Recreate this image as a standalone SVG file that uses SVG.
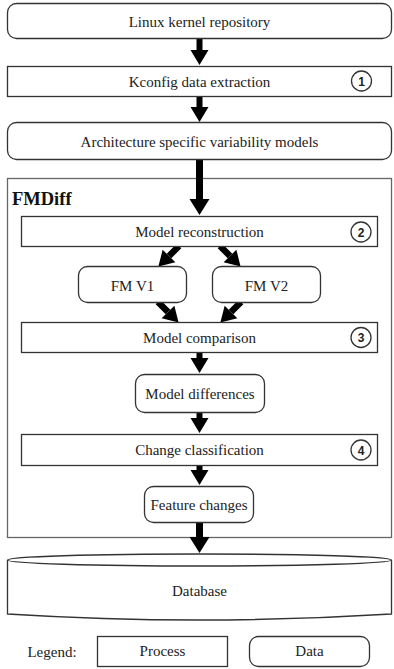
<svg xmlns="http://www.w3.org/2000/svg" width="394" height="669" viewBox="0 0 394 669">
<style>
.box{fill:#fff;stroke:#333;stroke-width:1.3}
.outer{fill:#fff;stroke:#666;stroke-width:1.3}
.t{font-family:"Liberation Serif","Times New Roman",serif;font-size:15px;fill:#222;text-anchor:middle}
.title{font-family:"Liberation Serif","Times New Roman",serif;font-size:18.5px;font-weight:bold;fill:#111}
.num{font-family:"Liberation Sans",Arial,sans-serif;font-size:12px;font-weight:bold;fill:#222;text-anchor:middle}
.circ{fill:#fff;stroke:#333;stroke-width:1.3}
.sh{stroke:#000;fill:none}
.hd{fill:#000}
</style>
<defs>
<marker id="ah" markerUnits="userSpaceOnUse" markerWidth="16" markerHeight="20" refX="0" refY="9" orient="auto" overflow="visible">
<path d="M0,0 L15,9 L0,18 z" fill="#000"/>
</marker>
<marker id="ahb" markerUnits="userSpaceOnUse" markerWidth="17" markerHeight="22" refX="0" refY="10" orient="auto" overflow="visible">
<path d="M0,0 L16,10 L0,20 z" fill="#000"/>
</marker>
</defs>
<rect width="394" height="669" fill="#fff"/>

<g id="fmdiff">
<rect class="outer" x="7.5" y="178.5" width="384" height="359"/>
<text class="title" x="12" y="205">FMDiff</text>
</g>

<g id="connectors">
<line class="sh" stroke-width="6" x1="199.5" y1="39" x2="199.5" y2="50" marker-end="url(#ah)"/>
<line class="sh" stroke-width="6" x1="199.5" y1="97" x2="199.5" y2="107" marker-end="url(#ah)"/>
<line class="sh" stroke-width="7" x1="199.5" y1="160" x2="199.5" y2="199" marker-end="url(#ahb)"/>
<line class="sh" stroke-width="6.5" x1="179" y1="246" x2="169" y2="256" marker-end="url(#ah)"/>
<line class="sh" stroke-width="6.5" x1="220" y1="246" x2="230" y2="256" marker-end="url(#ah)"/>
<line class="sh" stroke-width="6.5" x1="158" y1="302" x2="168" y2="312" marker-end="url(#ah)"/>
<line class="sh" stroke-width="6.5" x1="241" y1="302" x2="231" y2="312" marker-end="url(#ah)"/>
<line class="sh" stroke-width="6" x1="199.5" y1="353" x2="199.5" y2="358" marker-end="url(#ah)"/>
<line class="sh" stroke-width="6" x1="199.5" y1="413" x2="199.5" y2="418" marker-end="url(#ah)"/>
<line class="sh" stroke-width="6" x1="199.5" y1="466" x2="199.5" y2="470" marker-end="url(#ah)"/>
<line class="sh" stroke-width="7" x1="199.5" y1="523" x2="199.5" y2="537" marker-end="url(#ahb)"/>
</g>

<g id="linux-repo">
<rect class="box" x="7.5" y="3.5" width="384" height="35" rx="9"/>
<text class="t" x="199.5" y="27">Linux kernel repository</text>
</g>

<g id="kconfig">
<rect class="box" x="7.5" y="66.5" width="384" height="30"/>
<text class="t" x="199.5" y="87">Kconfig data extraction</text>
<circle class="circ" cx="361.5" cy="81" r="10"/>
<text class="num" x="361.5" y="85.5">1</text>
</g>

<g id="arch-models">
<rect class="box" x="7.5" y="122.5" width="384" height="37" rx="9"/>
<text class="t" x="199.5" y="147">Architecture specific variability models</text>
</g>

<g id="model-reconstruction">
<rect class="box" x="21.5" y="216.5" width="356" height="30"/>
<text class="t" x="199.5" y="237">Model reconstruction</text>
<circle class="circ" cx="361" cy="232" r="10"/>
<text class="num" x="361" y="236.5">2</text>
</g>

<g id="fm-v1">
<rect class="box" x="78.5" y="266.5" width="108" height="36" rx="9"/>
<text class="t" x="132.5" y="291">FM V1</text>
</g>

<g id="fm-v2">
<rect class="box" x="212.5" y="266.5" width="108" height="36" rx="9"/>
<text class="t" x="266.5" y="291">FM V2</text>
</g>

<g id="model-comparison">
<rect class="box" x="21.5" y="322.5" width="356" height="30"/>
<text class="t" x="199.5" y="342.5">Model comparison</text>
<circle class="circ" cx="361" cy="337.5" r="10"/>
<text class="num" x="361" y="342">3</text>
</g>

<g id="model-differences">
<rect class="box" x="135.5" y="374.5" width="129" height="38" rx="9"/>
<text class="t" x="200" y="398.5">Model differences</text>
</g>

<g id="change-classification">
<rect class="box" x="21.5" y="434.5" width="356" height="31"/>
<text class="t" x="199.5" y="455">Change classification</text>
<circle class="circ" cx="361" cy="450" r="10"/>
<text class="num" x="361" y="454.5">4</text>
</g>

<g id="feature-changes">
<rect class="box" x="144.5" y="486.5" width="109" height="36" rx="9"/>
<text class="t" x="199" y="510">Feature changes</text>
</g>

<g id="database">
<path class="box" d="M7.5,560 L7.5,614 Q199.5,626 391.5,614 L391.5,560"/>
<ellipse class="box" cx="199.5" cy="560" rx="192" ry="6"/>
<text class="t" x="199.5" y="596">Database</text>
</g>

<g id="legend">
<text class="t" x="52" y="657">Legend:</text>
<rect class="box" x="97.5" y="636.5" width="130" height="30"/>
<text class="t" x="162.5" y="656">Process</text>
<rect class="box" x="249.5" y="636.5" width="120" height="30" rx="9"/>
<text class="t" x="309.5" y="656">Data</text>
</g>
</svg>
